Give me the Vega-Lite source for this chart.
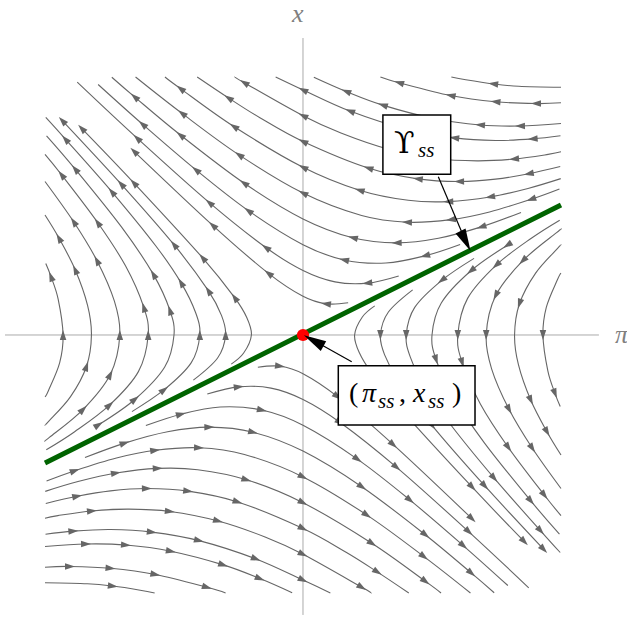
{
"$schema": "https://vega.github.io/schema/vega-lite/v6.json",
"width": 627, "height": 633, "autosize": {"type": "none"}, "padding": 0,
"background": "white",
"config": {"view": {"stroke": null}},
"datasets": {
"axes": [{"p": -1.155, "x": 0, "p2": 1.147, "x2": 0}, {"p": 0, "x": 1.151, "p2": 0, "x2": -1.085}],
"axislabels": [{"t": "x", "p": -0.043, "x": 1.214}, {"t": "π", "p": 1.209, "x": -0.032}],
"lines": [
{"g":"L1","i":0,"p":-1.0,"x":-0.24},{"g":"L1","i":1,"p":-0.986,"x":-0.214},{"g":"L1","i":2,"p":-0.943,"x":-0.107},{"g":"L1","i":3,"p":-0.93,"x":0},{"g":"L1","i":4,"p":-0.949,"x":0.139},{"g":"L1","i":5,"p":-0.977,"x":0.227},{"g":"L1","i":6,"p":-0.997,"x":0.277},
{"g":"L2","i":0,"p":-1.0,"x":-0.349},{"g":"L2","i":1,"p":-0.985,"x":-0.334},{"g":"L2","i":2,"p":-0.901,"x":-0.239},{"g":"L2","i":3,"p":-0.839,"x":-0.121},{"g":"L2","i":4,"p":-0.82,"x":0},{"g":"L2","i":5,"p":-0.835,"x":0.115},{"g":"L2","i":6,"p":-0.883,"x":0.253},{"g":"L2","i":7,"p":-0.946,"x":0.376},{"g":"L2","i":8,"p":-1.0,"x":0.465},
{"g":"L3","i":0,"p":-1.0,"x":-0.41},{"g":"L3","i":1,"p":-0.983,"x":-0.397},{"g":"L3","i":2,"p":-0.852,"x":-0.288},{"g":"L3","i":3,"p":-0.747,"x":-0.153},{"g":"L3","i":4,"p":-0.71,"x":0},{"g":"L3","i":5,"p":-0.731,"x":0.131},{"g":"L3","i":6,"p":-0.799,"x":0.289},{"g":"L3","i":7,"p":-0.889,"x":0.439},{"g":"L3","i":8,"p":-1.0,"x":0.595},
{"g":"L4","i":0,"p":-0.995,"x":-0.445},{"g":"L4","i":1,"p":-0.885,"x":-0.375},{"g":"L4","i":2,"p":-0.749,"x":-0.271},{"g":"L4","i":3,"p":-0.638,"x":-0.142},{"g":"L4","i":4,"p":-0.6,"x":0},{"g":"L4","i":5,"p":-0.617,"x":0.107},{"g":"L4","i":6,"p":-0.688,"x":0.268},{"g":"L4","i":7,"p":-0.796,"x":0.436},{"g":"L4","i":8,"p":-0.936,"x":0.621},{"g":"L4","i":9,"p":-1.0,"x":0.7},
{"g":"L5","i":0,"p":-0.792,"x":-0.348},{"g":"L5","i":1,"p":-0.651,"x":-0.249},{"g":"L5","i":2,"p":-0.536,"x":-0.124},{"g":"L5","i":3,"p":-0.5,"x":0},{"g":"L5","i":4,"p":-0.516,"x":0.096},{"g":"L5","i":5,"p":-0.58,"x":0.235},{"g":"L5","i":6,"p":-0.703,"x":0.418},{"g":"L5","i":7,"p":-0.883,"x":0.643},{"g":"L5","i":8,"p":-0.994,"x":0.772},
{"g":"L6","i":0,"p":-0.663,"x":-0.297},{"g":"L6","i":1,"p":-0.538,"x":-0.212},{"g":"L6","i":2,"p":-0.433,"x":-0.107},{"g":"L6","i":3,"p":-0.4,"x":0},{"g":"L6","i":4,"p":-0.416,"x":0.086},{"g":"L6","i":5,"p":-0.473,"x":0.203},{"g":"L6","i":6,"p":-0.571,"x":0.346},{"g":"L6","i":7,"p":-0.741,"x":0.555},{"g":"L6","i":8,"p":-0.921,"x":0.759},{"g":"L6","i":9,"p":-0.997,"x":0.843},
{"g":"L7","i":0,"p":-0.425,"x":-0.175},{"g":"L7","i":1,"p":-0.331,"x":-0.089},{"g":"L7","i":2,"p":-0.3,"x":0},{"g":"L7","i":3,"p":-0.316,"x":0.076},{"g":"L7","i":4,"p":-0.367,"x":0.172},{"g":"L7","i":5,"p":-0.5,"x":0.35},{"g":"L7","i":6,"p":-0.705,"x":0.585},{"g":"L7","i":7,"p":-0.933,"x":0.831},
{"g":"L8","i":0,"p":-0.278,"x":-0.113},{"g":"L8","i":1,"p":-0.23,"x":-0.07},{"g":"L8","i":2,"p":-0.2,"x":0},{"g":"L8","i":3,"p":-0.218,"x":0.068},{"g":"L8","i":4,"p":-0.265,"x":0.145},{"g":"L8","i":5,"p":-0.389,"x":0.299},{"g":"L8","i":6,"p":-0.656,"x":0.59},{"g":"L8","i":7,"p":-0.858,"x":0.801},
{"g":"R1","i":0,"p":1.0,"x":0.24},{"g":"R1","i":1,"p":0.986,"x":0.214},{"g":"R1","i":2,"p":0.943,"x":0.107},{"g":"R1","i":3,"p":0.93,"x":0},{"g":"R1","i":4,"p":0.949,"x":-0.139},{"g":"R1","i":5,"p":0.977,"x":-0.227},{"g":"R1","i":6,"p":0.997,"x":-0.277},
{"g":"R2","i":0,"p":1.0,"x":0.349},{"g":"R2","i":1,"p":0.985,"x":0.334},{"g":"R2","i":2,"p":0.901,"x":0.239},{"g":"R2","i":3,"p":0.839,"x":0.121},{"g":"R2","i":4,"p":0.82,"x":0},{"g":"R2","i":5,"p":0.835,"x":-0.115},{"g":"R2","i":6,"p":0.883,"x":-0.253},{"g":"R2","i":7,"p":0.946,"x":-0.376},{"g":"R2","i":8,"p":1.0,"x":-0.465},
{"g":"R3","i":0,"p":1.0,"x":0.41},{"g":"R3","i":1,"p":0.983,"x":0.397},{"g":"R3","i":2,"p":0.852,"x":0.288},{"g":"R3","i":3,"p":0.747,"x":0.153},{"g":"R3","i":4,"p":0.71,"x":0},{"g":"R3","i":5,"p":0.731,"x":-0.131},{"g":"R3","i":6,"p":0.799,"x":-0.289},{"g":"R3","i":7,"p":0.889,"x":-0.439},{"g":"R3","i":8,"p":1.0,"x":-0.595},
{"g":"R4","i":0,"p":0.995,"x":0.445},{"g":"R4","i":1,"p":0.885,"x":0.375},{"g":"R4","i":2,"p":0.749,"x":0.271},{"g":"R4","i":3,"p":0.638,"x":0.142},{"g":"R4","i":4,"p":0.6,"x":0},{"g":"R4","i":5,"p":0.617,"x":-0.107},{"g":"R4","i":6,"p":0.688,"x":-0.268},{"g":"R4","i":7,"p":0.796,"x":-0.436},{"g":"R4","i":8,"p":0.936,"x":-0.621},{"g":"R4","i":9,"p":1.0,"x":-0.7},
{"g":"R5","i":0,"p":0.792,"x":0.348},{"g":"R5","i":1,"p":0.651,"x":0.249},{"g":"R5","i":2,"p":0.536,"x":0.124},{"g":"R5","i":3,"p":0.5,"x":0},{"g":"R5","i":4,"p":0.516,"x":-0.096},{"g":"R5","i":5,"p":0.58,"x":-0.235},{"g":"R5","i":6,"p":0.703,"x":-0.418},{"g":"R5","i":7,"p":0.883,"x":-0.643},{"g":"R5","i":8,"p":0.994,"x":-0.772},
{"g":"R6","i":0,"p":0.663,"x":0.297},{"g":"R6","i":1,"p":0.538,"x":0.212},{"g":"R6","i":2,"p":0.433,"x":0.107},{"g":"R6","i":3,"p":0.4,"x":0},{"g":"R6","i":4,"p":0.416,"x":-0.086},{"g":"R6","i":5,"p":0.473,"x":-0.203},{"g":"R6","i":6,"p":0.571,"x":-0.346},{"g":"R6","i":7,"p":0.741,"x":-0.555},{"g":"R6","i":8,"p":0.921,"x":-0.759},{"g":"R6","i":9,"p":0.997,"x":-0.843},
{"g":"R7","i":0,"p":0.425,"x":0.175},{"g":"R7","i":1,"p":0.331,"x":0.089},{"g":"R7","i":2,"p":0.3,"x":0},{"g":"R7","i":3,"p":0.316,"x":-0.076},{"g":"R7","i":4,"p":0.367,"x":-0.172},{"g":"R7","i":5,"p":0.5,"x":-0.35},{"g":"R7","i":6,"p":0.705,"x":-0.585},{"g":"R7","i":7,"p":0.933,"x":-0.831},
{"g":"R8","i":0,"p":0.278,"x":0.113},{"g":"R8","i":1,"p":0.23,"x":0.07},{"g":"R8","i":2,"p":0.2,"x":0},{"g":"R8","i":3,"p":0.218,"x":-0.068},{"g":"R8","i":4,"p":0.265,"x":-0.145},{"g":"R8","i":5,"p":0.389,"x":-0.299},{"g":"R8","i":6,"p":0.656,"x":-0.59},{"g":"R8","i":7,"p":0.858,"x":-0.801},
{"g":"T1","i":0,"p":1.0,"x":0.96},{"g":"T1","i":1,"p":0.836,"x":0.964},{"g":"T1","i":2,"p":0.737,"x":0.973},{"g":"T1","i":3,"p":0.631,"x":0.989},{"g":"T1","i":4,"p":0.575,"x":1.0},
{"g":"T2","i":0,"p":1.0,"x":0.9},{"g":"T2","i":1,"p":0.903,"x":0.897},{"g":"T2","i":2,"p":0.746,"x":0.904},{"g":"T2","i":3,"p":0.572,"x":0.928},{"g":"T2","i":4,"p":0.372,"x":0.978},{"g":"T2","i":5,"p":0.3,"x":1.0},
{"g":"T3","i":0,"p":1.0,"x":0.82},{"g":"T3","i":1,"p":0.841,"x":0.81},{"g":"T3","i":2,"p":0.686,"x":0.814},{"g":"T3","i":3,"p":0.512,"x":0.838},{"g":"T3","i":4,"p":0.309,"x":0.891},{"g":"T3","i":5,"p":0.167,"x":0.944},{"g":"T3","i":6,"p":0.042,"x":0.999},
{"g":"T4","i":0,"p":0.998,"x":0.772},{"g":"T4","i":1,"p":0.89,"x":0.76},{"g":"T4","i":2,"p":0.746,"x":0.754},{"g":"T4","i":3,"p":0.586,"x":0.764},{"g":"T4","i":4,"p":0.403,"x":0.797},{"g":"T4","i":5,"p":0.182,"x":0.868},{"g":"T4","i":6,"p":0,"x":0.95},{"g":"T4","i":7,"p":-0.106,"x":1.0},
{"g":"T5","i":0,"p":1.0,"x":0.71},{"g":"T5","i":1,"p":0.95,"x":0.7},{"g":"T5","i":2,"p":0.818,"x":0.682},{"g":"T5","i":3,"p":0.675,"x":0.675},{"g":"T5","i":4,"p":0.516,"x":0.684},{"g":"T5","i":5,"p":0.329,"x":0.721},{"g":"T5","i":6,"p":0.147,"x":0.783},{"g":"T5","i":7,"p":0,"x":0.85},{"g":"T5","i":8,"p":-0.228,"x":0.978},{"g":"T5","i":9,"p":-0.265,"x":1.0},
{"g":"T6","i":0,"p":0.997,"x":0.653},{"g":"T6","i":1,"p":0.875,"x":0.625},{"g":"T6","i":2,"p":0.746,"x":0.604},{"g":"T6","i":3,"p":0.605,"x":0.595},{"g":"T6","i":4,"p":0.445,"x":0.605},{"g":"T6","i":5,"p":0.253,"x":0.647},{"g":"T6","i":6,"p":0,"x":0.75},{"g":"T6","i":7,"p":-0.167,"x":0.842},{"g":"T6","i":8,"p":-0.289,"x":0.919},{"g":"T6","i":9,"p":-0.41,"x":1.0},
{"g":"T7","i":0,"p":0.999,"x":0.606},{"g":"T7","i":1,"p":0.872,"x":0.568},{"g":"T7","i":2,"p":0.725,"x":0.535},{"g":"T7","i":3,"p":0.563,"x":0.517},{"g":"T7","i":4,"p":0.408,"x":0.522},{"g":"T7","i":5,"p":0.219,"x":0.561},{"g":"T7","i":6,"p":0,"x":0.65},{"g":"T7","i":7,"p":-0.268,"x":0.808},{"g":"T7","i":8,"p":-0.475,"x":0.955},{"g":"T7","i":9,"p":-0.535,"x":1.0},
{"g":"T8","i":0,"p":0.994,"x":0.566},{"g":"T8","i":1,"p":0.884,"x":0.526},{"g":"T8","i":2,"p":0.723,"x":0.477},{"g":"T8","i":3,"p":0.573,"x":0.447},{"g":"T8","i":4,"p":0.403,"x":0.437},{"g":"T8","i":5,"p":0.227,"x":0.463},{"g":"T8","i":6,"p":0,"x":0.55},{"g":"T8","i":7,"p":-0.248,"x":0.698},{"g":"T8","i":8,"p":-0.469,"x":0.859},{"g":"T8","i":9,"p":-0.649,"x":1.0},
{"g":"T9","i":0,"p":0.845,"x":0.475},{"g":"T9","i":1,"p":0.691,"x":0.419},{"g":"T9","i":2,"p":0.525,"x":0.375},{"g":"T9","i":3,"p":0.363,"x":0.357},{"g":"T9","i":4,"p":0.193,"x":0.377},{"g":"T9","i":5,"p":0,"x":0.45},{"g":"T9","i":6,"p":-0.229,"x":0.589},{"g":"T9","i":7,"p":-0.475,"x":0.775},{"g":"T9","i":8,"p":-0.653,"x":0.923},{"g":"T9","i":9,"p":-0.741,"x":0.999},
{"g":"T10","i":0,"p":0.609,"x":0.351},{"g":"T10","i":1,"p":0.473,"x":0.307},{"g":"T10","i":2,"p":0.321,"x":0.279},{"g":"T10","i":3,"p":0.159,"x":0.291},{"g":"T10","i":4,"p":0,"x":0.35},{"g":"T10","i":5,"p":-0.212,"x":0.482},{"g":"T10","i":6,"p":-0.415,"x":0.64},{"g":"T10","i":7,"p":-0.622,"x":0.817},{"g":"T10","i":8,"p":-0.794,"x":0.971},
{"g":"T11","i":0,"p":0.371,"x":0.229},{"g":"T11","i":1,"p":0.249,"x":0.201},{"g":"T11","i":2,"p":0.124,"x":0.206},{"g":"T11","i":3,"p":0,"x":0.25},{"g":"T11","i":4,"p":-0.144,"x":0.339},{"g":"T11","i":5,"p":-0.363,"x":0.513},{"g":"T11","i":6,"p":-0.643,"x":0.763},{"g":"T11","i":7,"p":-0.875,"x":0.98},
{"g":"T12","i":0,"p":0.175,"x":0.125},{"g":"T12","i":1,"p":0.089,"x":0.121},{"g":"T12","i":2,"p":0,"x":0.15},{"g":"T12","i":3,"p":-0.134,"x":0.239},{"g":"T12","i":4,"p":-0.35,"x":0.425},{"g":"T12","i":5,"p":-0.655,"x":0.712},
{"g":"B1","i":0,"p":-1.0,"x":-0.96},{"g":"B1","i":1,"p":-0.836,"x":-0.964},{"g":"B1","i":2,"p":-0.737,"x":-0.973},{"g":"B1","i":3,"p":-0.631,"x":-0.989},{"g":"B1","i":4,"p":-0.575,"x":-1.0},
{"g":"B2","i":0,"p":-1.0,"x":-0.9},{"g":"B2","i":1,"p":-0.903,"x":-0.897},{"g":"B2","i":2,"p":-0.746,"x":-0.904},{"g":"B2","i":3,"p":-0.572,"x":-0.928},{"g":"B2","i":4,"p":-0.372,"x":-0.978},{"g":"B2","i":5,"p":-0.3,"x":-1.0},
{"g":"B3","i":0,"p":-1.0,"x":-0.82},{"g":"B3","i":1,"p":-0.841,"x":-0.81},{"g":"B3","i":2,"p":-0.686,"x":-0.814},{"g":"B3","i":3,"p":-0.512,"x":-0.838},{"g":"B3","i":4,"p":-0.309,"x":-0.891},{"g":"B3","i":5,"p":-0.167,"x":-0.944},{"g":"B3","i":6,"p":-0.042,"x":-0.999},
{"g":"B4","i":0,"p":-0.998,"x":-0.772},{"g":"B4","i":1,"p":-0.89,"x":-0.76},{"g":"B4","i":2,"p":-0.746,"x":-0.754},{"g":"B4","i":3,"p":-0.586,"x":-0.764},{"g":"B4","i":4,"p":-0.403,"x":-0.797},{"g":"B4","i":5,"p":-0.182,"x":-0.868},{"g":"B4","i":6,"p":0,"x":-0.95},{"g":"B4","i":7,"p":0.106,"x":-1.0},
{"g":"B5","i":0,"p":-1.0,"x":-0.71},{"g":"B5","i":1,"p":-0.95,"x":-0.7},{"g":"B5","i":2,"p":-0.818,"x":-0.682},{"g":"B5","i":3,"p":-0.675,"x":-0.675},{"g":"B5","i":4,"p":-0.516,"x":-0.684},{"g":"B5","i":5,"p":-0.329,"x":-0.721},{"g":"B5","i":6,"p":-0.147,"x":-0.783},{"g":"B5","i":7,"p":0,"x":-0.85},{"g":"B5","i":8,"p":0.228,"x":-0.978},{"g":"B5","i":9,"p":0.265,"x":-1.0},
{"g":"B6","i":0,"p":-0.997,"x":-0.653},{"g":"B6","i":1,"p":-0.875,"x":-0.625},{"g":"B6","i":2,"p":-0.746,"x":-0.604},{"g":"B6","i":3,"p":-0.605,"x":-0.595},{"g":"B6","i":4,"p":-0.445,"x":-0.605},{"g":"B6","i":5,"p":-0.253,"x":-0.647},{"g":"B6","i":6,"p":0,"x":-0.75},{"g":"B6","i":7,"p":0.167,"x":-0.842},{"g":"B6","i":8,"p":0.289,"x":-0.919},{"g":"B6","i":9,"p":0.41,"x":-1.0},
{"g":"B7","i":0,"p":-0.999,"x":-0.606},{"g":"B7","i":1,"p":-0.872,"x":-0.568},{"g":"B7","i":2,"p":-0.725,"x":-0.535},{"g":"B7","i":3,"p":-0.563,"x":-0.517},{"g":"B7","i":4,"p":-0.408,"x":-0.522},{"g":"B7","i":5,"p":-0.219,"x":-0.561},{"g":"B7","i":6,"p":0,"x":-0.65},{"g":"B7","i":7,"p":0.268,"x":-0.808},{"g":"B7","i":8,"p":0.475,"x":-0.955},{"g":"B7","i":9,"p":0.535,"x":-1.0},
{"g":"B8","i":0,"p":-0.994,"x":-0.566},{"g":"B8","i":1,"p":-0.884,"x":-0.526},{"g":"B8","i":2,"p":-0.723,"x":-0.477},{"g":"B8","i":3,"p":-0.573,"x":-0.447},{"g":"B8","i":4,"p":-0.403,"x":-0.437},{"g":"B8","i":5,"p":-0.227,"x":-0.463},{"g":"B8","i":6,"p":0,"x":-0.55},{"g":"B8","i":7,"p":0.248,"x":-0.698},{"g":"B8","i":8,"p":0.469,"x":-0.859},{"g":"B8","i":9,"p":0.649,"x":-1.0},
{"g":"B9","i":0,"p":-0.845,"x":-0.475},{"g":"B9","i":1,"p":-0.691,"x":-0.419},{"g":"B9","i":2,"p":-0.525,"x":-0.375},{"g":"B9","i":3,"p":-0.363,"x":-0.357},{"g":"B9","i":4,"p":-0.193,"x":-0.377},{"g":"B9","i":5,"p":0,"x":-0.45},{"g":"B9","i":6,"p":0.229,"x":-0.589},{"g":"B9","i":7,"p":0.475,"x":-0.775},{"g":"B9","i":8,"p":0.653,"x":-0.923},{"g":"B9","i":9,"p":0.741,"x":-0.999},
{"g":"B10","i":0,"p":-0.609,"x":-0.351},{"g":"B10","i":1,"p":-0.473,"x":-0.307},{"g":"B10","i":2,"p":-0.321,"x":-0.279},{"g":"B10","i":3,"p":-0.159,"x":-0.291},{"g":"B10","i":4,"p":0,"x":-0.35},{"g":"B10","i":5,"p":0.212,"x":-0.482},{"g":"B10","i":6,"p":0.415,"x":-0.64},{"g":"B10","i":7,"p":0.622,"x":-0.817},{"g":"B10","i":8,"p":0.794,"x":-0.971},
{"g":"B11","i":0,"p":-0.371,"x":-0.229},{"g":"B11","i":1,"p":-0.249,"x":-0.201},{"g":"B11","i":2,"p":-0.124,"x":-0.206},{"g":"B11","i":3,"p":0,"x":-0.25},{"g":"B11","i":4,"p":0.144,"x":-0.339},{"g":"B11","i":5,"p":0.363,"x":-0.513},{"g":"B11","i":6,"p":0.643,"x":-0.763},{"g":"B11","i":7,"p":0.875,"x":-0.98},
{"g":"B12","i":0,"p":-0.175,"x":-0.125},{"g":"B12","i":1,"p":-0.089,"x":-0.121},{"g":"B12","i":2,"p":0,"x":-0.15},{"g":"B12","i":3,"p":0.134,"x":-0.239},{"g":"B12","i":4,"p":0.35,"x":-0.425},{"g":"B12","i":5,"p":0.655,"x":-0.712}
],
"arrows": [
{"p":-0.93,"x":0,"a":-90},{"p":-0.977,"x":0.227,"a":-110.7},
{"p":-0.839,"x":-0.121,"a":-71.4},{"p":-0.883,"x":0.253,"a":-114.0},{"p":-0.946,"x":0.376,"a":-119.6},
{"p":-0.852,"x":-0.288,"a":-44.4},{"p":-0.747,"x":-0.153,"a":-62.7},{"p":-0.71,"x":0,"a":-90},{"p":-0.799,"x":0.289,"a":-118.0},{"p":-0.889,"x":0.439,"a":-123.5},
{"p":-0.749,"x":-0.271,"a":-41.4},{"p":-0.6,"x":0,"a":-90},{"p":-0.617,"x":0.107,"a":-106.4},{"p":-0.796,"x":0.436,"a":-125.3},{"p":-0.936,"x":0.621,"a":-128.6},
{"p":-0.792,"x":-0.348,"a":-32.5},{"p":-0.651,"x":-0.249,"a":-39.0},{"p":-0.516,"x":0.096,"a":-107.4},{"p":-0.58,"x":0.235,"a":-120.0},{"p":-0.883,"x":0.643,"a":-130.1},
{"p":-0.538,"x":-0.212,"a":-37.5},{"p":-0.4,"x":0,"a":-90},{"p":-0.473,"x":0.203,"a":-121.0},{"p":-0.741,"x":0.555,"a":-130.6},{"p":-0.921,"x":0.759,"a":-132.1},
{"p":-0.3,"x":0,"a":-90},{"p":-0.367,"x":0.172,"a":-122.5},{"p":-0.5,"x":0.35,"a":-129.5},{"p":-0.705,"x":0.585,"a":-132.2},{"p":-0.933,"x":0.831,"a":-133.3},
{"p":-0.265,"x":0.145,"a":-125.3},{"p":-0.389,"x":0.299,"a":-131.0},{"p":-0.656,"x":0.59,"a":-133.4},{"p":-0.858,"x":0.801,"a":-134.0},
{"p":0.93,"x":0,"a":90},{"p":0.977,"x":-0.227,"a":69.3},
{"p":0.839,"x":0.121,"a":108.6},{"p":0.883,"x":-0.253,"a":66.0},{"p":0.946,"x":-0.376,"a":60.4},
{"p":0.852,"x":0.288,"a":135.6},{"p":0.747,"x":0.153,"a":117.3},{"p":0.71,"x":0,"a":90},{"p":0.799,"x":-0.289,"a":62.0},{"p":0.889,"x":-0.439,"a":56.5},
{"p":0.749,"x":0.271,"a":138.6},{"p":0.6,"x":0,"a":90},{"p":0.617,"x":-0.107,"a":73.6},{"p":0.796,"x":-0.436,"a":54.7},{"p":0.936,"x":-0.621,"a":51.4},
{"p":0.792,"x":0.348,"a":147.5},{"p":0.651,"x":0.249,"a":141.0},{"p":0.516,"x":-0.096,"a":72.6},{"p":0.58,"x":-0.235,"a":60.0},{"p":0.883,"x":-0.643,"a":49.9},
{"p":0.538,"x":0.212,"a":142.5},{"p":0.4,"x":0,"a":90},{"p":0.473,"x":-0.203,"a":59.0},{"p":0.741,"x":-0.555,"a":49.4},{"p":0.921,"x":-0.759,"a":47.9},
{"p":0.3,"x":0,"a":90},{"p":0.367,"x":-0.172,"a":57.5},{"p":0.5,"x":-0.35,"a":50.5},{"p":0.705,"x":-0.585,"a":47.8},{"p":0.933,"x":-0.831,"a":46.7},
{"p":0.265,"x":-0.145,"a":54.7},{"p":0.389,"x":-0.299,"a":49.0},{"p":0.656,"x":-0.59,"a":46.6},{"p":0.858,"x":-0.801,"a":46.0},
{"p":0.737,"x":0.973,"a":-173.1},
{"p":0.903,"x":0.897,"a":179.8},{"p":0.746,"x":0.904,"a":-175.0},{"p":0.572,"x":0.928,"a":-169.1},{"p":0.372,"x":0.978,"a":-162.8},
{"p":0.841,"x":0.81,"a":178.9},{"p":0.686,"x":0.814,"a":-175.5},{"p":0.512,"x":0.838,"a":-169.0},{"p":0.309,"x":0.891,"a":-161.9},{"p":0.167,"x":0.944,"a":-157.6},
{"p":0.89,"x":0.76,"a":175.1},{"p":0.586,"x":0.764,"a":-173.4},{"p":0.403,"x":0.797,"a":-166.1},{"p":0.182,"x":0.868,"a":-158.4},{"p":0,"x":0.95,"a":-153.4},
{"p":0.818,"x":0.682,"a":174.3},{"p":0.516,"x":0.684,"a":-173.0},{"p":0.329,"x":0.721,"a":-164.8},{"p":0,"x":0.85,"a":-153.4},{"p":-0.228,"x":0.978,"a":-148.3},
{"p":0.875,"x":0.625,"a":168.7},{"p":0.605,"x":0.595,"a":179.5},{"p":0.445,"x":0.605,"a":-172.5},{"p":0.253,"x":0.647,"a":-163.1},{"p":0,"x":0.75,"a":-153.4},{"p":-0.289,"x":0.919,"a":-146.7},
{"p":0.725,"x":0.535,"a":170.0},{"p":0.563,"x":0.517,"a":177.5},{"p":0.219,"x":0.561,"a":-163.1},{"p":0,"x":0.65,"a":-153.4},{"p":-0.268,"x":0.808,"a":-146.3},{"p":-0.475,"x":0.955,"a":-143.2},
{"p":0.884,"x":0.526,"a":161.2},{"p":0.573,"x":0.447,"a":172.0},{"p":0.403,"x":0.437,"a":-177.7},{"p":0,"x":0.55,"a":-153.4},{"p":-0.248,"x":0.698,"a":-145.9},{"p":-0.469,"x":0.859,"a":-142.3},
{"p":0.691,"x":0.419,"a":162.1},{"p":0.363,"x":0.357,"a":179.5},{"p":0.193,"x":0.377,"a":-166.3},{"p":-0.229,"x":0.589,"a":-145.2},{"p":-0.475,"x":0.775,"a":-141.1},{"p":-0.653,"x":0.923,"a":-139.5},
{"p":0.473,"x":0.307,"a":164.9},{"p":0.159,"x":0.291,"a":-167.2},{"p":-0.212,"x":0.482,"a":-144.3},{"p":-0.415,"x":0.64,"a":-140.5},{"p":-0.622,"x":0.817,"a":-138.6},
{"p":0.249,"x":0.201,"a":173.3},{"p":-0.144,"x":0.339,"a":-144.5},{"p":-0.363,"x":0.513,"a":-139.5},{"p":-0.643,"x":0.763,"a":-137.3},
{"p":0.089,"x":0.121,"a":-172.5},{"p":-0.134,"x":0.239,"a":-142.0},{"p":-0.35,"x":0.425,"a":-137.6},{"p":-0.655,"x":0.712,"a":-136.2},
{"p":-0.737,"x":-0.973,"a":6.9},
{"p":-0.903,"x":-0.897,"a":-0.2},{"p":-0.746,"x":-0.904,"a":5.0},{"p":-0.572,"x":-0.928,"a":10.9},{"p":-0.372,"x":-0.978,"a":17.2},
{"p":-0.841,"x":-0.81,"a":-1.1},{"p":-0.686,"x":-0.814,"a":4.5},{"p":-0.512,"x":-0.838,"a":11.0},{"p":-0.309,"x":-0.891,"a":18.1},{"p":-0.167,"x":-0.944,"a":22.4},
{"p":-0.89,"x":-0.76,"a":-4.9},{"p":-0.586,"x":-0.764,"a":6.6},{"p":-0.403,"x":-0.797,"a":13.9},{"p":-0.182,"x":-0.868,"a":21.6},{"p":0,"x":-0.95,"a":26.6},
{"p":-0.818,"x":-0.682,"a":-5.7},{"p":-0.516,"x":-0.684,"a":7.0},{"p":-0.329,"x":-0.721,"a":15.2},{"p":0,"x":-0.85,"a":26.6},{"p":0.228,"x":-0.978,"a":31.7},
{"p":-0.875,"x":-0.625,"a":-11.3},{"p":-0.605,"x":-0.595,"a":-0.5},{"p":-0.445,"x":-0.605,"a":7.5},{"p":-0.253,"x":-0.647,"a":16.9},{"p":0,"x":-0.75,"a":26.6},{"p":0.289,"x":-0.919,"a":33.3},
{"p":-0.725,"x":-0.535,"a":-10.0},{"p":-0.563,"x":-0.517,"a":-2.5},{"p":-0.219,"x":-0.561,"a":16.9},{"p":0,"x":-0.65,"a":26.6},{"p":0.268,"x":-0.808,"a":33.7},{"p":0.475,"x":-0.955,"a":36.8},
{"p":-0.884,"x":-0.526,"a":-18.8},{"p":-0.573,"x":-0.447,"a":-8.0},{"p":-0.403,"x":-0.437,"a":2.3},{"p":0,"x":-0.55,"a":26.6},{"p":0.248,"x":-0.698,"a":34.1},{"p":0.469,"x":-0.859,"a":37.7},
{"p":-0.691,"x":-0.419,"a":-17.9},{"p":-0.363,"x":-0.357,"a":-0.5},{"p":-0.193,"x":-0.377,"a":13.7},{"p":0.229,"x":-0.589,"a":34.8},{"p":0.475,"x":-0.775,"a":38.9},{"p":0.653,"x":-0.923,"a":40.5},
{"p":-0.473,"x":-0.307,"a":-15.1},{"p":-0.159,"x":-0.291,"a":12.8},{"p":0.212,"x":-0.482,"a":35.7},{"p":0.415,"x":-0.64,"a":39.5},{"p":0.622,"x":-0.817,"a":41.4},
{"p":-0.249,"x":-0.201,"a":-6.7},{"p":0.144,"x":-0.339,"a":35.5},{"p":0.363,"x":-0.513,"a":40.5},{"p":0.643,"x":-0.763,"a":42.7},
{"p":-0.089,"x":-0.121,"a":7.5},{"p":0.134,"x":-0.239,"a":38.0},{"p":0.35,"x":-0.425,"a":42.4},{"p":0.655,"x":-0.712,"a":43.8}
],
"green": [{"i":0,"p":-1.0,"x":-0.496},{"i":1,"p":1.0,"x":0.504}],
"ss": [{"p":0,"x":0}],
"pointers": [{"g":"A1","i":0,"p":0.5244,"x":0.6136},{"g":"A1","i":1,"p":0.63,"x":0.364},{"g":"A2","i":0,"p":0.1888,"x":-0.1035},{"g":"A2","i":1,"p":0.0415,"x":-0.0217}],
"heads": [{"p":0.63,"x":0.364,"a":63.4},{"p":0.0415,"x":-0.0217,"a":-150.9}],
"boxes": [{"p":0.3097,"x":0.8527,"p2":0.5725,"x2":0.6229},{"p":0.1368,"x":-0.119,"p2":0.6667,"x2":-0.3488}],
"upsilon": [{"t":"ϒ","p":0.3527,"x":0.7054}],
"upright": [{"t":"(","p":0.178,"x":-0.2597},{"t":",","p":0.372,"x":-0.2597},{"t":")","p":0.5775,"x":-0.2597}],
"italic": [{"t":"π","p":0.2287,"x":-0.2597},{"t":"x","p":0.4264,"x":-0.2597}],
"subs": [{"t":"ss","p":0.4457,"x":0.69},{"t":"ss","p":0.2907,"x":-0.283},{"t":"ss","p":0.4845,"x":-0.283}]
},
"encoding": {
"x": {"field": "p", "type": "quantitative", "scale": {"domain": [-1.1744, 1.2558], "nice": false, "zero": false}, "axis": null},
"y": {"field": "x", "type": "quantitative", "scale": {"domain": [-1.155, 1.2984], "nice": false, "zero": false}, "axis": null}
},
"layer": [
{"data": {"name": "axes"}, "mark": {"type": "rule", "color": "#aaaaaa", "strokeWidth": 1}, "encoding": {"x2": {"field": "p2"}, "y2": {"field": "x2"}}},
{"data": {"name": "axislabels"}, "mark": {"type": "text", "font": "Liberation Serif, Times New Roman, DejaVu Serif, serif", "fontStyle": "italic", "fontSize": 26, "color": "#808080", "align": "left", "baseline": "alphabetic"}, "encoding": {"text": {"field": "t"}}},
{"data": {"name": "lines"}, "mark": {"type": "line", "color": "#666666", "strokeWidth": 1.1, "interpolate": "cardinal"}, "encoding": {"detail": {"field": "g"}, "order": {"field": "i", "type": "quantitative"}}},
{"data": {"name": "arrows"}, "mark": {"type": "point", "filled": true, "color": "#666666", "opacity": 1, "shape": "M1,0L-1,-0.65L-1,0.65Z", "size": 100}, "encoding": {"angle": {"field": "a", "type": "quantitative", "scale": null}}},
{"data": {"name": "green"}, "mark": {"type": "line", "color": "#006400", "strokeWidth": 5}, "encoding": {"order": {"field": "i", "type": "quantitative"}}},
{"data": {"name": "ss"}, "mark": {"type": "point", "filled": true, "color": "#ff0000", "opacity": 1, "size": 150, "shape": "circle"}},
{"data": {"name": "pointers"}, "mark": {"type": "line", "color": "black", "strokeWidth": 1.2}, "encoding": {"detail": {"field": "g"}, "order": {"field": "i", "type": "quantitative"}}},
{"data": {"name": "heads"}, "mark": {"type": "point", "filled": true, "color": "black", "opacity": 1, "shape": "M1,0L-1,-0.5L-1,0.5Z", "size": 500}, "encoding": {"angle": {"field": "a", "type": "quantitative", "scale": null}}},
{"data": {"name": "boxes"}, "mark": {"type": "rect", "fill": "white", "stroke": "black", "strokeWidth": 1.5}, "encoding": {"x2": {"field": "p2"}, "y2": {"field": "x2"}}},
{"data": {"name": "upsilon"}, "mark": {"type": "text", "font": "DejaVu Serif", "fontSize": 30, "color": "black", "align": "left", "baseline": "alphabetic"}, "encoding": {"text": {"field": "t"}}},
{"data": {"name": "upright"}, "mark": {"type": "text", "font": "Liberation Serif, Times New Roman, DejaVu Serif, serif", "fontSize": 28, "color": "black", "align": "left", "baseline": "alphabetic"}, "encoding": {"text": {"field": "t"}}},
{"data": {"name": "italic"}, "mark": {"type": "text", "font": "Liberation Serif, Times New Roman, DejaVu Serif, serif", "fontStyle": "italic", "fontSize": 28, "color": "black", "align": "left", "baseline": "alphabetic"}, "encoding": {"text": {"field": "t"}}},
{"data": {"name": "subs"}, "mark": {"type": "text", "font": "Liberation Serif, Times New Roman, DejaVu Serif, serif", "fontStyle": "italic", "fontSize": 21, "color": "black", "align": "left", "baseline": "alphabetic"}, "encoding": {"text": {"field": "t"}}}
]
}
